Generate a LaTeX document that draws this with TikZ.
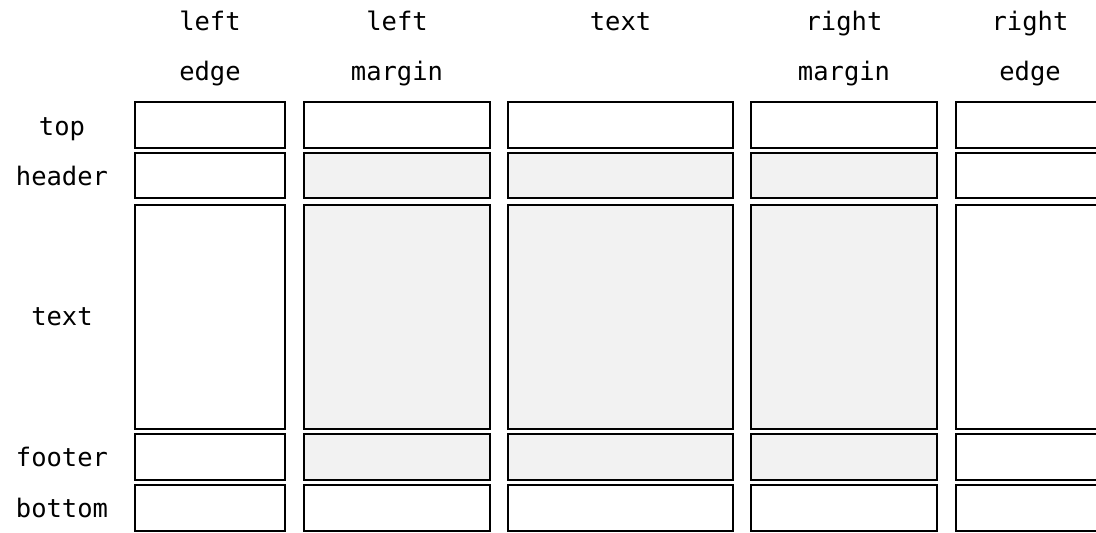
\documentclass[tikz,border=0pt]{standalone}
\usepackage{fontspec}
\setmonofont{DejaVu Sans Mono}
\definecolor{shade}{HTML}{F2F2F2}
\begin{document}
\begin{tikzpicture}[x=1pt,y=-1pt,
  lbl/.style={font=\ttfamily\fontsize{25.5}{30}\selectfont, anchor=base, inner sep=0pt},
  cell/.style={draw=black, line width=2pt, anchor=north west, inner sep=0pt, outer sep=0pt},
  shaded/.style={cell, fill=shade}]
\useasboundingbox (0,0) rectangle (1096,533);
\clip (0,0) rectangle (1096,533);
% columns: name/x1/x2
\foreach \c/\xa/\xb in {1/135/285, 2/304/490, 3/508/733, 4/751/937, 5/956/1106}{
  \foreach \r/\ya/\yb in {1/102/148, 2/153/198, 3/205/429, 4/434/480, 5/485/531}{
    \pgfmathsetmacro{\w}{\xb-\xa}
    \pgfmathsetmacro{\h}{\yb-\ya}
    \pgfmathtruncatemacro{\isshade}{(\c>1)&&(\c<5)&&(\r>1)&&(\r<5)}
    \ifnum\isshade=1
      \node[shaded, minimum width=\w pt, minimum height=\h pt] (cell-\c-\r) at (\xa,\ya) {};
    \else
      \node[cell, minimum width=\w pt, minimum height=\h pt] (cell-\c-\r) at (\xa,\ya) {};
    \fi
  }
}
% column labels
\node[lbl] (cl1a) at (210,30) {left};
\node[lbl] (cl1b) at (210,80) {edge};
\node[lbl] (cl2a) at (397,30) {left};
\node[lbl] (cl2b) at (397,80) {margin};
\node[lbl] (cl3a) at (620.5,30) {text};
\node[lbl] (cl4a) at (844,30) {right};
\node[lbl] (cl4b) at (844,80) {margin};
\node[lbl] (cl5a) at (1030,30) {right};
\node[lbl] (cl5b) at (1030,80) {edge};
% row labels
\node[lbl] (rl1) at (62,135) {top};
\node[lbl] (rl2) at (62,185) {header};
\node[lbl] (rl3) at (62,325) {text};
\node[lbl] (rl4) at (62,466) {footer};
\node[lbl] (rl5) at (62,517) {bottom};
\end{tikzpicture}
\end{document}
